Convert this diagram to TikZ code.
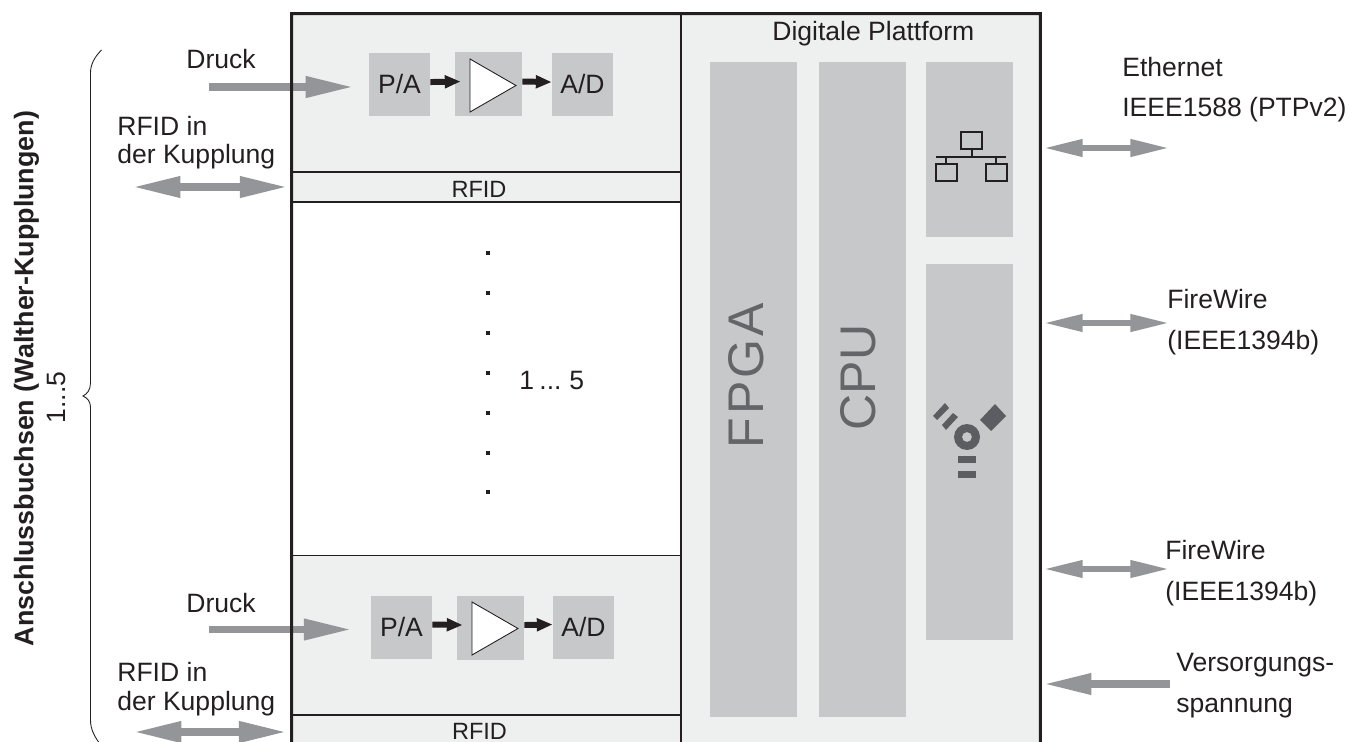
\documentclass[tikz,border=0pt]{standalone}
\usepackage{fontspec}
\setmainfont{Liberation Sans}
\usetikzlibrary{arrows.meta, positioning, calc}
\definecolor{LGr}{RGB}{238,240,239}
\definecolor{MGr}{RGB}{199,200,202}
\definecolor{AGr}{RGB}{147,149,152}
\definecolor{IGr}{RGB}{100,101,104}
\definecolor{FGr}{RGB}{92,93,96}
\definecolor{DG}{RGB}{35,31,32}

\begin{document}
\begin{tikzpicture}[
  panel/.style={fill=LGr, inner sep=0pt, minimum width=#1},
  band/.style={draw=DG, line width=0.6pt, fill=LGr, inner sep=0pt,
               minimum width=7.78cm, minimum height=0.6cm},
  bandt/.style={inner sep=0pt, text=DG, font=\fontsize{13.4}{16}\selectfont},
  cell/.style={fill=MGr, inner sep=0pt, text=DG, font=\fontsize{15.1}{16}\selectfont},
  bar/.style={fill=MGr, inner sep=0pt, minimum width=1.74cm},
  lbl/.style={inner sep=0pt, anchor=base west, align=left, text=DG,
              font=\fontsize{15.1}{16.4}\selectfont},
  lblw/.style={lbl, font=\fontsize{15.1}{23.3}\selectfont},
  big/.style={inner sep=0pt, rotate=90, text=IGr, font=\fontsize{28.5}{30}\selectfont},
  dotm/.style={fill=DG, inner sep=0pt, minimum size=0.08cm},
  amptri/.style={draw=DG, line width=0.5pt, fill=white},
  icon/.style={draw=DG, line width=1.1pt},
  fwicon/.style={fill=FGr},
  garr/.style={draw=AGr, line width=4pt, -{Triangle[length=27pt, width=11.4pt]}},
  gdbl/.style={draw=AGr, line width=4pt,
               {Triangle[length=27pt, width=11.4pt]}-{Triangle[length=27pt, width=11.4pt]}},
  gsm/.style={draw=AGr, line width=3.2pt,
              {Triangle[length=22pt, width=9.4pt]}-{Triangle[length=22pt, width=9.4pt]}},
  barr/.style={draw=DG, line width=3.4pt, -{Triangle[length=9pt, width=7pt]}}
]
\clip (0,0) rectangle (26.98,-14.84);

% panels
\node[panel=7.18cm, minimum height=14.56cm] (plat) at (17.21,-7.56) {};
\node[panel=7.78cm, minimum height=3.16cm] (top) at (9.73,-1.86) {};
\node[panel=7.78cm, minimum height=3.18cm] (bot) at (9.73,-12.71) {};
\node[band] (rfida) at (9.73,-3.74) {};
\node[band] (rfidb) at (9.73,-14.6) {};
\node[bandt] (rta) at (9.58,-3.79) {RFID};
\node[bandt] (rtb) at (9.59,-14.62) {RFID};

% digital part
\node[bar, minimum height=13.1cm] (fpga) at (15.07,-7.79) {};
\node[bar, minimum height=13.1cm] (cpu)  at (17.25,-7.79) {};
\node[bar, minimum height=3.5cm]  (eth)  at (19.39,-2.99) {};
\node[bar, minimum height=7.52cm] (fw)   at (19.39,-9.04) {};
\node[big] (fpgat) at (14.92,-7.51) {\addfontfeature{LetterSpace=6}FPGA};
\node[big] (cput)  at (17.16,-7.55) {CPU};
\node[lbl] (plab) at (15.44,-0.82) {Digitale Plattform};

% upper channel
\node[cell, minimum width=1.22cm, minimum height=1.26cm] (pa1) at (7.99,-1.69) {P/A};
\node[cell, minimum width=1.34cm, minimum height=1.28cm] (amp1) at (9.77,-1.68) {};
\node[cell, minimum width=1.22cm, minimum height=1.26cm] (ad1) at (11.65,-1.69) {A/D};
\draw[amptri] (9.4,-1.18)--(10.32,-1.71)--(9.4,-2.24)--cycle;
\draw[barr] ([yshift=1.4pt]pa1.east)--([xshift=3.4pt,yshift=1.4pt]amp1.west);
\draw[barr] ([yshift=1.4pt]amp1.east)--([yshift=1.4pt]ad1.west);

% lower channel
\node[cell, minimum width=1.22cm, minimum height=1.26cm] (pa2) at (8.03,-12.55) {P/A};
\node[cell, minimum width=1.34cm, minimum height=1.28cm] (amp2) at (9.81,-12.56) {};
\node[cell, minimum width=1.22cm, minimum height=1.26cm] (ad2) at (11.67,-12.55) {A/D};
\draw[amptri] (9.44,-12.04)--(10.36,-12.57)--(9.44,-13.1)--cycle;
\draw[barr] ([yshift=1.7pt]pa2.east)--([xshift=3.4pt,yshift=1.7pt]amp2.west);
\draw[barr] ([yshift=1.7pt]amp2.east)--([yshift=1.7pt]ad2.west);

% dots
\foreach \y [count=\i] in {5.06,5.86,6.66,7.46,8.26,9.06,9.84}
  \node[dotm] (dot\i) at (9.76,-\y) {};
\node[lbl] (rng) at (10.38,-7.78) {\spaceskip=.2em 1 ... 5};

% left inputs
\node[lbl] (druck1) at (3.72,-1.37) {Druck};
\node[lbl] (druck2) at (3.72,-12.24) {Druck};
\node[lbl] (kup1) at (2.34,-3.28) {RFID in\\der Kupplung};
\node[lbl] (kup2) at (2.34,-14.2) {RFID in\\der Kupplung};
\coordinate (dr1) at (4.18,-1.74);
\coordinate (dr2) at (4.18,-12.59);
\coordinate (rf1) at (2.66,-3.74);
\coordinate (rf2) at (2.68,-14.64);
\draw[garr, shorten >=8.8pt] (dr1)--(dr1 -| pa1.west);
\draw[garr, shorten >=11pt] (dr2)--(dr2 -| pa2.west);
\draw[gdbl, shorten >=2.4pt] (rf1)--(rfida.west);
\draw[gdbl, shorten >=2.9pt] (rf2)--(rf2 -| rfidb.west);

% frame
\draw[DG, line width=0.6pt] (top.south west)--(top.south east);
\draw[DG, line width=0.6pt] (bot.north west)--(bot.north east);
\draw[DG, line width=1pt] (plat.north west)--(plat.south west);
\draw[DG, line width=1.7pt] (top.south west |- plat.south)--(top.north west)--(plat.north east)--(plat.south east);

% ethernet symbol
\draw[icon] (19.22,-2.64) rectangle (19.64,-2.98);
\draw[icon] (18.72,-3.28) rectangle (19.14,-3.62);
\draw[icon] (19.72,-3.28) rectangle (20.14,-3.62);
\draw[icon] (18.72,-3.14)--(20.12,-3.14);
\draw[icon] (19.44,-2.98)--(19.44,-3.14);
\draw[icon] (18.92,-3.14)--(18.92,-3.28);
\draw[icon] (19.92,-3.14)--(19.92,-3.28);

% firewire symbol
\fill[fwicon, even odd rule] (19.34,-8.74) circle (0.26) (19.34,-8.74) circle (0.10);
\fill[fwicon] (19.9,-8.08)--(20.12,-8.32)--(19.82,-8.62)--(19.6,-8.4)--cycle;
\fill[fwicon] (18.9,-8.06)--(18.98,-8.16)--(18.74,-8.4)--(18.66,-8.32)--cycle;
\fill[fwicon] (19.06,-8.26)--(19.16,-8.34)--(18.92,-8.6)--(18.84,-8.5)--cycle;
\fill[fwicon] (19.16,-9.12) rectangle (19.52,-9.26);
\fill[fwicon] (19.16,-9.42) rectangle (19.52,-9.56);

% right side
\node[lblw] (ether) at (22.44,-2.34) {Ethernet\\IEEE1588 (PTPv2)};
\node[lblw] (fw1) at (23.34,-6.98) {FireWire\\(IEEE1394b)};
\node[lblw] (fw2) at (23.3,-12.0) {FireWire\\(IEEE1394b)};
\node[lblw] (vers) at (23.52,-14.24) {Versorgungs-\\spannung};
\coordinate (e1) at (20.88,-2.96);  \coordinate (e2) at (23.38,-2.96);
\coordinate (f1) at (20.88,-6.46);  \coordinate (f2) at (23.38,-6.46);
\coordinate (g1) at (20.88,-11.38); \coordinate (g2) at (23.38,-11.38);
\coordinate (v1) at (23.4,-13.68);  \coordinate (v2) at (20.88,-13.68);
\draw[gsm] (e1)--(e2);
\draw[gsm] (f1)--(f2);
\draw[gsm] (g1)--(g2);
\draw[garr] (v1)--(v2);

% brace
\draw[DG, line width=0.5pt] (2.03,-1.0) .. controls (1.88,-1.15) and (1.81,-1.3) .. (1.81,-1.46)
  -- (1.81,-7.66) .. controls (1.81,-7.8) and (1.74,-7.88) .. (1.66,-7.92)
  .. controls (1.74,-7.96) and (1.81,-8.02) .. (1.81,-8.14)
  -- (1.81,-14.4) .. controls (1.81,-14.6) and (1.9,-14.75) .. (2.03,-14.92);
\node[lbl, anchor=center, rotate=90, font=\fontsize{15.3}{16}\selectfont\bfseries] (side) at (0.53,-7.57) {Anschlussbuchsen (Walther-Kupplungen)};
\node[lbl, anchor=center, rotate=90] (cnt) at (1.14,-7.95) {1...5};
\end{tikzpicture}
\end{document}
